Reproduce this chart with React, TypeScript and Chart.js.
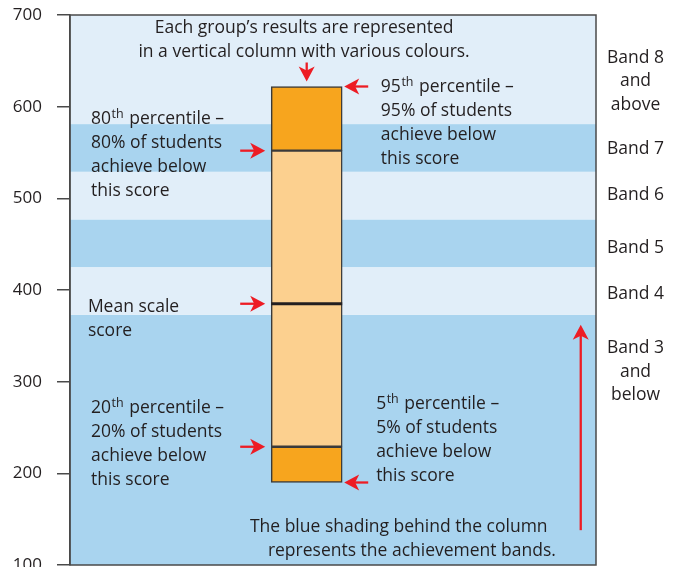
import React, { useEffect, useRef } from 'react';
import { Chart, registerables } from 'chart.js';

Chart.register(...registerables);

// ---------- data ----------
const yTickValues = [100, 200, 300, 400, 500, 600, 700];
const bandBoundaries = [373, 425, 477, 529, 581];
const bandNames = ['Band 3\nand\nbelow', 'Band 4', 'Band 5', 'Band 6', 'Band 7', 'Band 8\nand\nabove'];
const bandLabelScores = [331, 390, 440, 498, 548, 648];
const segmentStarts = [190, 229, 552];
const segmentEnds = [229, 552, 622];
const meanScore = 385;
const columnPosition = [45];

// annotation texts (x on a hidden 0-100 axis, y in score units = baseline of first line)
const noteTexts = [
  'Each group’s results are represented\nin a vertical column with various colours.',
  '80^th^ percentile –\n80% of students\nachieve below\nthis score',
  'Mean scale\nscore',
  '20^th^ percentile –\n20% of students\nachieve below\nthis score',
  '95^th^ percentile –\n95% of students\nachieve below\nthis score',
  '5^th^ percentile –\n5% of students\nachieve below\nthis score',
  'The blue shading behind the column',
  'represents the achievement bands.',
];
const noteX = [44.5, 4, 3.4, 4, 59.1, 58.2, 62.5, 65];
const noteY = [680, 581, 376, 266, 616, 270, 136, 110];
const noteAlign = ['center', 'left', 'left', 'left', 'left', 'left', 'center', 'center'];

const bandArrowFrom = [138];
const bandArrowTo = [362];
const bandArrowX = [97.1];

// ---------- styles ----------
const FONT = '"Open Sans", "Noto Sans", sans-serif';
const TICK_FONT = '"Open Sans", sans-serif';
const TEXT = '#231F20';
const RED = '#ED1C24';
const BAND_LIGHT = '#E1EEF9';
const BAND_DARK = '#A9D4EF';
const ORANGE_DARK = '#F7A51E';
const ORANGE_LIGHT = '#FCD08F';
const LINE_H = 24;

function drawArrow(ctx: CanvasRenderingContext2D, x1: number, y1: number, x2: number, y2: number) {
  const ang = Math.atan2(y2 - y1, x2 - x1);
  const headLen = 15, halfW = 8, notch = 4;
  ctx.save();
  ctx.strokeStyle = RED;
  ctx.fillStyle = RED;
  ctx.lineWidth = 2.3;
  const bx = x2 - Math.cos(ang) * (headLen - notch - 1);
  const by = y2 - Math.sin(ang) * (headLen - notch - 1);
  ctx.beginPath();
  ctx.moveTo(x1, y1);
  ctx.lineTo(bx, by);
  ctx.stroke();
  ctx.translate(x2, y2);
  ctx.rotate(ang);
  ctx.beginPath();
  ctx.moveTo(0, 0);
  ctx.lineTo(-headLen, -halfW);
  ctx.lineTo(-headLen + notch, 0);
  ctx.lineTo(-headLen, halfW);
  ctx.closePath();
  ctx.fill();
  ctx.restore();
}

function drawRich(ctx: CanvasRenderingContext2D, line: string, x: number, y: number, align: string) {
  const parts = line.split('^');
  const normal = `17.5px ${FONT}`;
  const sup = `12.5px ${FONT}`;
  let total = 0;
  const widths = parts.map((p, i) => {
    ctx.font = i % 2 ? sup : normal;
    const w = ctx.measureText(p).width + (i % 2 ? 1.5 : 0);
    total += w;
    return w;
  });
  let cx = align === 'center' ? x - total / 2 : x;
  ctx.textAlign = 'left';
  ctx.textBaseline = 'alphabetic';
  ctx.fillStyle = TEXT;
  parts.forEach((p, i) => {
    ctx.font = i % 2 ? sup : normal;
    ctx.fillText(p, cx + (i % 2 ? 0.5 : 0), i % 2 ? y - 6 : y);
    cx += widths[i];
  });
}

const decorPlugin = {
  id: 'decor',
  beforeDraw(chart: any) {
    const { ctx, chartArea: a, scales } = chart;
    const ys = scales.y;
    const cuts = [100, ...bandBoundaries, 700];
    ctx.save();
    for (let i = 0; i < cuts.length - 1; i++) {
      const yTop = ys.getPixelForValue(cuts[i + 1]);
      const yBot = ys.getPixelForValue(cuts[i]);
      ctx.fillStyle = i % 2 === 0 ? BAND_DARK : BAND_LIGHT;
      ctx.fillRect(a.left, yTop, a.right - a.left, yBot - yTop);
    }
    ctx.restore();
  },
  afterDatasetsDraw(chart: any) {
    const { ctx, chartArea: a, scales } = chart;
    const ys = scales.y;
    const xs = scales.x;
    const meta = chart.getDatasetMeta(0);
    const bar = meta.data[1];
    const L = bar.x - bar.width / 2;
    const R = bar.x + bar.width / 2;
    ctx.save();
    // mean line
    const my = ys.getPixelForValue(meanScore);
    ctx.strokeStyle = TEXT;
    ctx.lineWidth = 3;
    ctx.beginPath();
    ctx.moveTo(L, my);
    ctx.lineTo(R, my);
    ctx.stroke();
    // frame
    ctx.strokeStyle = '#4a4a4a';
    ctx.lineWidth = 1.5;
    ctx.strokeRect(a.left, a.top, a.right - a.left, a.bottom - a.top);
    ctx.restore();

    // arrows
    const pTop = ys.getPixelForValue(segmentEnds[2]);
    drawArrow(ctx, bar.x, pTop - 24, bar.x, pTop - 5);
    [segmentStarts[2], meanScore, segmentStarts[1]].forEach((v) => {
      const y = ys.getPixelForValue(v);
      drawArrow(ctx, L - 31, y, L - 6, y);
    });
    [segmentEnds[2], segmentStarts[0]].forEach((v) => {
      const y = ys.getPixelForValue(v);
      drawArrow(ctx, R + 26, y, R + 2, y);
    });
    bandArrowX.forEach((bx, i) => {
      const px = xs.getPixelForValue(bx);
      drawArrow(ctx, px, ys.getPixelForValue(bandArrowFrom[i]), px, ys.getPixelForValue(bandArrowTo[i]));
    });

    // notes
    ctx.save();
    noteTexts.forEach((t, i) => {
      const x = xs.getPixelForValue(noteX[i]);
      const y0 = ys.getPixelForValue(noteY[i]);
      t.split('\n').forEach((line, j) => drawRich(ctx, line, x, y0 + j * LINE_H, noteAlign[i]));
    });
    // band labels
    const bandCenterX = a.right + (chart.width - a.right) / 2 - 4;
    bandNames.forEach((name, i) => {
      const y0 = ys.getPixelForValue(bandLabelScores[i]);
      name.split('\n').forEach((line, j) => drawRich(ctx, line, bandCenterX, y0 + j * 23.5, 'center'));
    });
    ctx.restore();
  },
};

export default function App() {
  const ref = useRef<HTMLCanvasElement | null>(null);
  useEffect(() => {
    document.body.style.margin = '0';
    const canvas = ref.current;
    if (!canvas) return;
    const chart = new Chart(canvas, {
      type: 'bar',
      data: {
        datasets: [
          {
            data: segmentStarts.map((s, i) => ({ x: columnPosition[0], y: [s, segmentEnds[i]] })) as any,
            backgroundColor: [ORANGE_DARK, ORANGE_LIGHT, ORANGE_DARK],
            borderColor: '#3a3a3a',
            borderWidth: 1.5,
            borderSkipped: false,
            barThickness: 71,
          },
        ],
      },
      options: {
        animation: false,
        responsive: false,
        devicePixelRatio: 1,
        layout: { padding: { top: 15, right: 87, bottom: 2, left: 0 } },
        plugins: { legend: { display: false }, tooltip: { enabled: false } },
        scales: {
          x: { type: 'linear', min: 0, max: 100, display: false, offset: false },
          y: {
            min: 100,
            max: 700,
            afterBuildTicks: (s: any) => {
              s.ticks = yTickValues.map((v) => ({ value: v }));
            },
            ticks: { color: TEXT, font: { family: TICK_FONT, size: 17 }, padding: 15 },
            grid: { drawOnChartArea: false, tickLength: 13, color: '#4a4a4a', lineWidth: 1.5 },
            border: { display: true, color: '#4a4a4a', width: 1.5 },
            afterFit: (s: any) => {
              s.width = 70;
              s.paddingTop = 0;
              s.paddingBottom = 0;
            },
          },
        },
      },
      plugins: [decorPlugin],
    });
    return () => chart.destroy();
  }, []);
  return (
    <div style={{ width: 683, height: 567 }}>
      <canvas ref={ref} width={683} height={567} style={{ display: 'block' }} />
    </div>
  );
}
